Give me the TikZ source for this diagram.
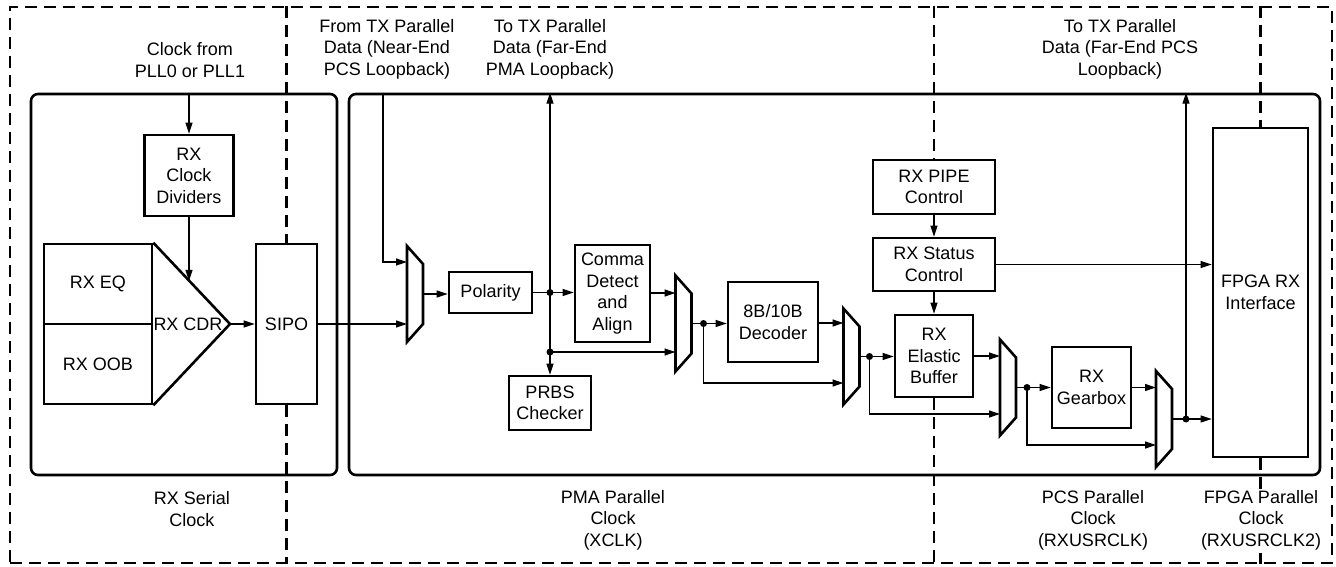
\documentclass[tikz,border=0pt]{standalone}
\usepackage{fontspec}
\setmainfont{Liberation Sans}
\usetikzlibrary{arrows.meta,positioning,calc}

\begin{document}
\begin{tikzpicture}[
    x=1pt, y=-1pt,
    font=\fontsize{18}{21.5}\selectfont,
    blk/.style={draw, line width=2.6pt, align=center, inner sep=0pt},
    region/.style={draw, line width=2.6pt, rounded corners=7pt, inner sep=0pt},
    muxbox/.style={minimum width=16pt, minimum height=96pt, inner sep=0pt, outer sep=0pt},
    muxline/.style={line width=2.6pt, line join=miter},
    clkline/.style={line width=2.4pt, dash pattern=on 12pt off 7pt},
    lbl/.style={align=center, inner sep=0pt},
    arrow/.style={-{Triangle[length=11pt,width=7pt]}, line width=1.2pt},
    wire/.style={line width=1.2pt},
    dot/.style={circle, fill, inner sep=0pt, minimum size=7pt}
]
\useasboundingbox (0,0) rectangle (1336,567);

% clock domains and the two blocks
\node[draw, clkline, minimum width=1322pt, minimum height=556pt, inner sep=0pt] (frame) at (671,285) {};
\node[region, minimum width=306pt, minimum height=381pt] (serbox) at (184,284.5) {};
\node[region, minimum width=971pt, minimum height=381pt] (pcsbox) at (834.5,284.5) {};

% serial side
\node[blk, minimum width=89pt, minimum height=81pt] (clkdiv) at (189,175.5) {RX\\Clock\\Dividers};
\node[blk, minimum width=108pt, minimum height=80pt] (rxeq) at (98,284) {RX EQ};
\node[blk, minimum width=108pt, minimum height=80pt] (rxoob) at (98,364) {RX OOB};
\coordinate (cdrtip) at (230,324);
\draw[muxline] (rxeq.north east) -- (cdrtip) -- (rxoob.south east);
\node[lbl] (cdr) at (188,324) {RX CDR};
\node[blk, minimum width=61pt, minimum height=160pt] (sipo) at (286.5,324) {SIPO};
\coordinate (cdrin) at ($(rxeq.north east)!0.47!(cdrtip)$);

% parallel side
\node[muxbox] (mux1) at (415,294) {};
\node[blk, minimum width=83pt, minimum height=41pt] (polarity) at (490.5,292.5) {Polarity};
\node[blk, minimum width=75pt, minimum height=97pt] (comma) at (612.5,293.5) {Comma\\Detect\\and\\Align};
\node[blk, minimum width=82pt, minimum height=54pt] (prbs) at (550,403) {PRBS\\Checker};
\node[muxbox] (mux2) at (683.5,323.5) {};
\node[blk, minimum width=90pt, minimum height=80pt] (dec) at (773,322) {8B/10B\\Decoder};
\node[muxbox] (mux3) at (851.5,356.5) {};
\node[blk, minimum width=78pt, minimum height=82pt] (ebuf) at (934,356) {RX\\Elastic\\Buffer};
\node[muxbox] (mux4) at (1008,387.5) {};
\node[blk, minimum width=79pt, minimum height=81pt] (gear) at (1091.5,387.5) {RX\\Gearbox};
\node[muxbox] (mux5) at (1164,419) {};
\node[blk, minimum width=95pt, minimum height=329pt] (fpga) at (1260.5,292.5) {FPGA RX\\Interface};
\node[blk, minimum width=122pt, minimum height=54pt] (pipe) at (934,187) {RX PIPE\\Control};
\node[blk, minimum width=122pt, minimum height=53pt] (status) at (934,264.5) {RX Status\\Control};

\foreach \m in {mux1,mux2,mux3,mux4,mux5}
  \draw[muxline] (\m.north west) -- ([yshift=-18pt]\m.north east) -- ([yshift=18pt]\m.south east) -- (\m.south west) -- cycle;

% junctions
\coordinate (nearend) at (383,94);
\coordinate (j1) at (prbs.north |- polarity.east);
\coordinate (j2) at (550,352);
\coordinate (j3) at ([xshift=12pt]mux2.east);
\coordinate (j4) at ([xshift=10pt]mux3.east);
\coordinate (j5) at ([xshift=11pt]mux4.east);
\coordinate (j6) at ([xshift=14pt]mux5.east);

% connectors
\draw[arrow] (clkdiv.north |- serbox.north) -- (clkdiv.north);
\draw[arrow] (clkdiv.south) -- (clkdiv.south |- cdrin);
\draw[arrow] (cdrtip) -- (sipo.west);
\draw[arrow] (sipo.east) -- (sipo.east -| mux1.west);
\draw[arrow] (nearend) |- ([yshift=32pt]mux1.west);
\draw[arrow] (mux1.east) -- (mux1.east -| polarity.west);
\draw[wire] (polarity.east) -- (j1);
\draw[arrow] (j1) -- (j1 -| comma.west);
\draw[arrow] (j2) -- (j2 |- pcsbox.north);
\draw[arrow] (j2) -- (prbs.north);
\draw[arrow] (j2) -- (j2 -| mux2.west);
\draw[arrow] (comma.east |- 0,293) -- (mux2.west |- 0,293);
\draw[wire] (mux2.east) -- (j3);
\draw[arrow] (j3) -- (j3 -| dec.west);
\draw[arrow] (j3) |- (mux3.west |- 0,383);
\draw[arrow] (dec.east |- 0,323) -- (mux3.west |- 0,323);
\draw[wire] (mux3.east) -- (j4);
\draw[arrow] (j4) -- (j4 -| ebuf.west);
\draw[arrow] (j4) |- (mux4.west |- 0,414);
\draw[arrow] (ebuf.east) -- (ebuf.east -| mux4.west);
\draw[wire] (mux4.east) -- (j5);
\draw[arrow] (j5) -- (j5 -| gear.west);
\draw[arrow] (j5) |- (mux5.west |- 0,445);
\draw[arrow] (gear.east) -- (gear.east -| mux5.west);
\draw[wire] (mux5.east) -- (j6);
\draw[arrow] (j6) -- (j6 -| fpga.west);
\draw[arrow] (j6) -- (j6 |- pcsbox.north);
\draw[arrow] (pipe.south) -- (status.north);
\draw[arrow] (status.south) -- (ebuf.north);
\draw[arrow] (status.east) -- (status.east -| fpga.west);

\foreach \j in {j1,j2,j3,j4,j5,j6}
  \node[dot] at (\j) {};

% clock domain borders
\draw[clkline] (sipo.north |- frame.north) -- (sipo.north);
\draw[clkline] (sipo.south) -- (sipo.south |- frame.south);
\draw[clkline] (pipe.north |- frame.north) -- (pipe.north);
\draw[clkline] (ebuf.south) -- (ebuf.south |- frame.south);
\draw[clkline] (fpga.north |- frame.north) -- (fpga.north);
\draw[clkline] (fpga.south) -- (fpga.south |- frame.south);

% labels
\node[lbl] (pllsrc) at (190,60) {Clock from\\PLL0 or PLL1};
\node[lbl] (nearlbl) at (387,49) {From TX Parallel\\Data (Near-End\\PCS Loopback)};
\node[lbl] (pmalbl) at (550,49) {To TX Parallel\\Data (Far-End\\PMA Loopback)};
\node[lbl] (pcslbl) at (1120,49) {To TX Parallel\\Data (Far-End PCS\\Loopback)};
\node[lbl] (serclk) at (192,509) {RX Serial\\Clock};
\node[lbl] (pmaclk) at (613,520) {PMA Parallel\\Clock\\(XCLK)};
\node[lbl] (pcsclk) at (1093,520) {PCS Parallel\\Clock\\(RXUSRCLK)};
\node[lbl, fill=white, inner sep=1pt] (fpgaclk) at (1261,520) {FPGA Parallel\\Clock\\(RXUSRCLK2)};

\end{tikzpicture}
\end{document}
